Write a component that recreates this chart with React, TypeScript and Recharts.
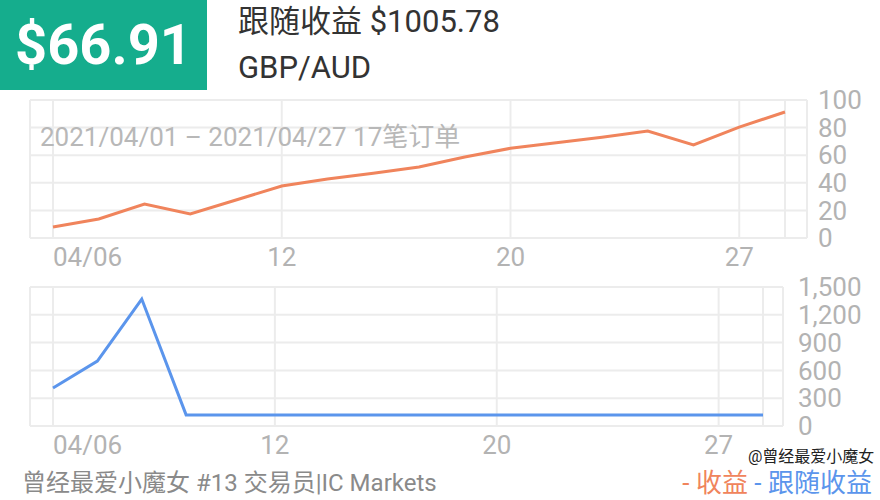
import { LineChart, Line, XAxis, YAxis, CartesianGrid } from "recharts"

// 17 orders, index on x
const points = [0, 1, 2, 3, 4, 5, 6, 7, 8, 9, 10, 11, 12, 13, 14, 15, 16]
const profit = [8, 13.8, 24.6, 17.4, 27.5, 37.7, 42.8, 47, 51.4, 58.7, 65, 69, 73, 77.5, 67.4, 80.4, 91.3]
const followProfit = [410, 700, 1370, 120, 120, 120, 120, 120, 120, 120, 120, 120, 120, 120, 120, 120, 120]

const xTicks = [0, 5, 10, 15, 16]
const xTickLabels = ["04/06", "12", "20", "27", ""]
const profitTicks = [0, 20, 40, 60, 80, 100]
const followTicks = [0, 300, 600, 900, 1200, 1500]

const data = points.map((i) => ({ i, profit: profit[i], follow: followProfit[i] }))

const axisColor = "#b3b3b3"
const gridColor = "#ececec"
const orange = "#f0845c"
const blue = "#5b95ec"
const font = "Roboto, 'Noto Sans CJK SC', sans-serif"

function XTick(props: any) {
  const { x, y, payload } = props
  const idx = xTicks.indexOf(payload.value)
  const label = xTickLabels[idx] ?? ""
  return (
    <text
      x={x}
      y={y}
      dy={20}
      textAnchor={idx === 0 ? "start" : "middle"}
      fill={axisColor}
      fontSize={26}
      fontFamily={font}
    >
      {label}
    </text>
  )
}

export default function App() {
  return (
    <div style={{ position: "absolute", left: 0, top: 0, width: 880, height: 500, background: "#fff", overflow: "hidden", fontFamily: font }}>
      <div style={{ position: "absolute", left: 0, top: 0, width: 207, height: 90, background: "#15ad8d", color: "#fff", fontSize: 56, fontWeight: "bold", lineHeight: "90px", textAlign: "center" }}>
        $66.91
      </div>
      <div style={{ position: "absolute", left: 238, top: 2, fontSize: 31, color: "#333", lineHeight: "40px" }}>跟随收益 $1005.78</div>
      <div style={{ position: "absolute", left: 238, top: 48, fontSize: 31, color: "#333", lineHeight: "40px" }}>GBP/AUD</div>

      <div style={{ position: "absolute", left: 0, top: 84 }}>
        <LineChart width={880} height={196} data={data} margin={{ top: 16, right: 0, bottom: 0, left: 30 }}>
          <CartesianGrid stroke={gridColor} strokeWidth={2} />
          <XAxis
            dataKey="i"
            type="number"
            domain={[0, 16]}
            ticks={xTicks}
            interval={0}
            height={42}
            padding={{ left: 23, right: 22 }}
            axisLine={false}
            tickLine={false}
            tick={<XTick />}
          />
          <YAxis
            orientation="right"
            domain={[0, 100]}
            ticks={profitTicks}
            interval={0}
            width={73}
            axisLine={false}
            tickLine={false}
            tickMargin={5}
            tick={{ fill: axisColor, fontSize: 26, fontFamily: font }}
          />
          <Line type="linear" dataKey="profit" stroke={orange} strokeWidth={3} dot={false} isAnimationActive={false} />
        </LineChart>
      </div>
      <div style={{ position: "absolute", left: 40, top: 120, fontSize: 26, color: "#b8b8b8", lineHeight: "34px" }}>
        2021/04/01 – 2021/04/27 17笔订单
      </div>

      <div style={{ position: "absolute", left: 0, top: 272 }}>
        <LineChart width={880} height={198} data={data} margin={{ top: 15, right: 0, bottom: 0, left: 30 }}>
          <CartesianGrid stroke={gridColor} strokeWidth={2} />
          <XAxis
            dataKey="i"
            type="number"
            domain={[0, 16]}
            ticks={xTicks}
            interval={0}
            height={44}
            padding={{ left: 23, right: 20 }}
            axisLine={false}
            tickLine={false}
            tick={<XTick />}
          />
          <YAxis
            orientation="right"
            domain={[0, 1500]}
            ticks={followTicks}
            interval={0}
            width={97}
            axisLine={false}
            tickLine={false}
            tickMargin={9}
            tickFormatter={(v: number) => v.toLocaleString("en-US")}
            tick={{ fill: axisColor, fontSize: 26, fontFamily: font }}
          />
          <Line type="linear" dataKey="follow" stroke={blue} strokeWidth={3} dot={false} isAnimationActive={false} />
        </LineChart>
      </div>

      <div style={{ position: "absolute", left: 22, top: 466, fontSize: 24, color: "#8a8a8a", lineHeight: "34px" }}>
        曾经最爱小魔女 #13 交易员|IC Markets
      </div>
      <div style={{ position: "absolute", left: 748, top: 446, fontSize: 16, color: "#222", lineHeight: "22px", whiteSpace: "nowrap" }}>
        @曾经最爱小魔女
      </div>
      <div style={{ position: "absolute", right: 8, top: 467, fontSize: 26, lineHeight: "32px", whiteSpace: "nowrap" }}>
        <span style={{ color: orange }}>- 收益 </span>
        <span style={{ color: blue }}>- 跟随收益</span>
      </div>
    </div>
  )
}
